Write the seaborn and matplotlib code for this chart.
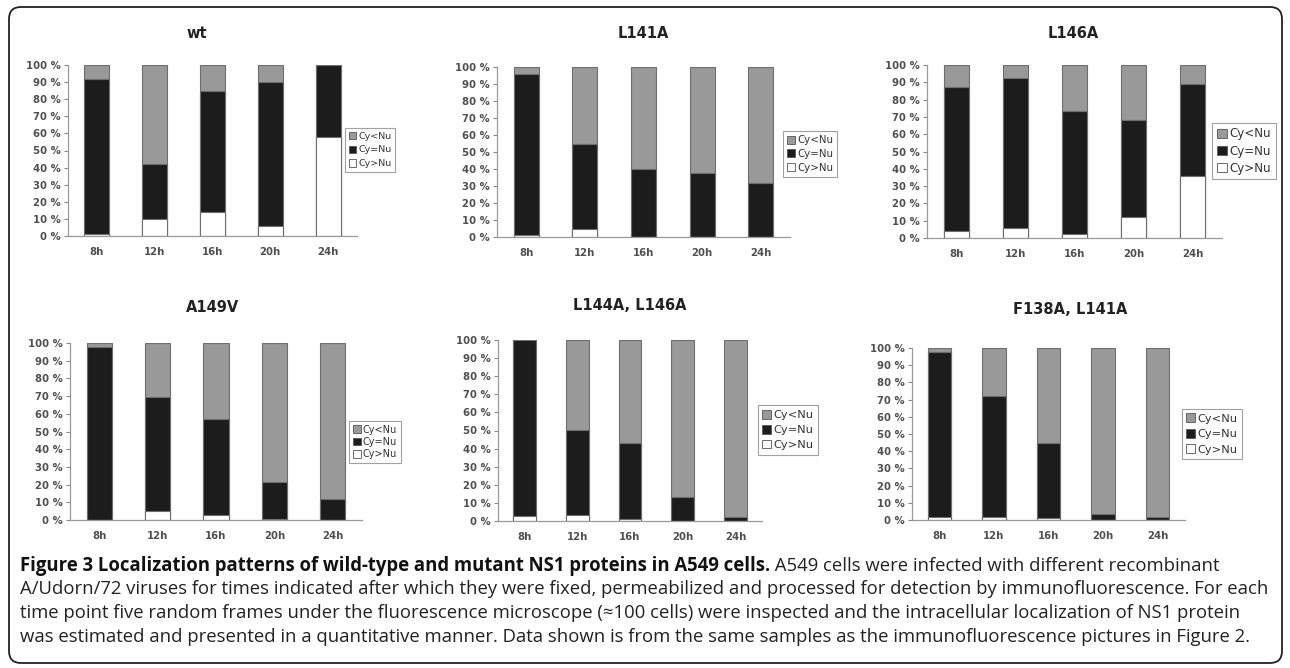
import numpy as np
import pandas as pd
import matplotlib
matplotlib.use("Agg")
import matplotlib.pyplot as plt
import seaborn as sns
from matplotlib.patches import Patch, FancyBboxPatch

# ---- data (percent of cells) ----
times = ["8h", "12h", "16h", "20h", "24h"]
panels = ["wt", "L141A", "L146A", "A149V", "L144A, L146A", "F138A, L141A"]
categories = ["Cy<Nu", "Cy=Nu", "Cy>Nu"]

cy_gt_nu = {
    "wt":           [1, 10, 14, 6, 58],
    "L141A":        [1, 5, 0, 0, 0],
    "L146A":        [4, 5.5, 2.5, 12, 36],
    "A149V":        [0, 5, 3, 0.5, 0],
    "L144A, L146A": [3, 3.5, 1, 0, 0],
    "F138A, L141A": [2, 1.5, 1, 0, 0],
}
cy_eq_nu = {
    "wt":           [91, 32, 71, 84, 42],
    "L141A":        [95, 50, 40, 37.5, 32],
    "L146A":        [83, 87, 71, 56, 53],
    "A149V":        [97.5, 64.5, 54, 21, 12],
    "L144A, L146A": [97, 47, 42, 13, 2],
    "F138A, L141A": [95.5, 70.5, 44, 3.5, 2],
}
cy_lt_nu = {
    "wt":           [8, 58, 15, 10, 0],
    "L141A":        [4, 45, 60, 62.5, 68],
    "L146A":        [13, 7.5, 26.5, 32, 11],
    "A149V":        [2.5, 30.5, 43, 78.5, 88],
    "L144A, L146A": [0, 49.5, 57, 87, 98],
    "F138A, L141A": [2.5, 28, 55, 96.5, 98],
}

ytick_values = list(range(0, 101, 10))
ytick_labels = [f"{v} %" for v in ytick_values]

caption_bold = "Figure 3 Localization patterns of wild-type and mutant NS1 proteins in A549 cells."
caption_lines = [
    " A549 cells were infected with different recombinant",
    "A/Udorn/72 viruses for times indicated after which they were fixed, permeabilized and processed for detection by immunofluorescence. For each",
    "time point five random frames under the fluorescence microscope (\u2248100 cells) were inspected and the intracellular localization of NS1 protein",
    "was estimated and presented in a quantitative manner. Data shown is from the same samples as the immunofluorescence pictures in Figure 2.",
]

# long table
rows = []
for p in panels:
    for i, t in enumerate(times):
        rows.append((p, t, "Cy>Nu", cy_gt_nu[p][i]))
        rows.append((p, t, "Cy=Nu", cy_eq_nu[p][i]))
        rows.append((p, t, "Cy<Nu", cy_lt_nu[p][i]))
df = pd.DataFrame(rows, columns=["panel", "time", "category", "value"])

# ---- layout in pixels (left, top, right, bottom), title centre, legend centre, legend font ----
W, H = 1290, 668
layout = {
    "wt":           dict(box=(68, 65, 357, 236),  title=(197, 33),  leg=(370, 150), lfs=6.8, ls=0.5),
    "L141A":        dict(box=(497, 67, 790, 237), title=(643, 33),  leg=(810, 154), lfs=7.4, ls=0.35),
    "L146A":        dict(box=(927, 65, 1222, 238), title=(1073, 33), leg=(1244, 151), lfs=8.6, ls=0.35),
    "A149V":        dict(box=(70, 343, 362, 520), title=(213, 307), leg=(375, 442), lfs=7.0, ls=0.25),
    "L144A, L146A": dict(box=(498, 340, 762, 521), title=(630, 305), leg=(788, 430), lfs=8.2, ls=0.4),
    "F138A, L141A": dict(box=(912, 348, 1185, 520), title=(1070, 310), leg=(1212, 434), lfs=8.2, ls=0.45),
}

colors = {"Cy<Nu": "#999999", "Cy=Nu": "#1c1c1c", "Cy>Nu": "#ffffff"}
edge = "#6e6e6e"
tick_color = "#505050"

sns.set_style("white")
plt.rcParams["font.family"] = ["DejaVu Sans"]

fig = plt.figure(figsize=(W / 100, H / 100), dpi=100)
fig.patch.set_facecolor("white")

for p in panels:
    lay = layout[p]
    l, t, r, b = lay["box"]
    ax = fig.add_axes([l / W, (H - b) / H, (r - l) / W, (b - t) / H])
    sub = df[df.panel == p].pivot(index="time", columns="category", values="value").loc[times]
    stacks = {
        "Cy<Nu": sub["Cy>Nu"] + sub["Cy=Nu"] + sub["Cy<Nu"],
        "Cy=Nu": sub["Cy>Nu"] + sub["Cy=Nu"],
        "Cy>Nu": sub["Cy>Nu"],
    }
    for cat in categories:
        d = pd.DataFrame({"time": times, "value": stacks[cat].values})
        sns.barplot(data=d, x="time", y="value", order=times, color=colors[cat],
                    saturation=1, edgecolor=edge, linewidth=0.8, width=0.43, ax=ax)
    ax.set_xlim(-0.5, 4.5)
    ax.set_ylim(0, 100)
    ax.set_xlabel("")
    ax.set_ylabel("")
    ax.set_yticks(ytick_values)
    ax.set_yticklabels(ytick_labels, fontsize=7.3, fontweight="bold", color=tick_color)
    ax.set_xticks(range(len(times)))
    ax.set_xticklabels(times, fontsize=7.3, fontweight="bold", color=tick_color)
    ax.set_xticks(np.arange(-0.5, 5, 1), minor=True)
    ax.tick_params(axis="x", which="major", length=0, pad=8)
    ax.tick_params(axis="x", which="minor", length=3, color="#888888", direction="out")
    ax.tick_params(axis="y", length=3, color="#888888", direction="out", pad=2, left=True)
    for s in ["top", "right"]:
        ax.spines[s].set_visible(False)
    for s in ["left", "bottom"]:
        ax.spines[s].set_color("#9a9a9a")
        ax.spines[s].set_linewidth(0.9)
    ax.set_facecolor("none")

    handles = [Patch(facecolor=colors[c], edgecolor="#555555", linewidth=0.6) for c in categories]
    lx, ly = lay["leg"]
    leg = ax.legend(handles, categories, loc="center", bbox_to_anchor=(lx / W, 1 - ly / H),
                    bbox_transform=fig.transFigure, frameon=True, fancybox=False,
                    fontsize=lay["lfs"], handlelength=0.8, handleheight=0.8,
                    handletextpad=0.2, labelspacing=lay["ls"], borderpad=0.4, borderaxespad=0)
    leg.get_frame().set_edgecolor("#8a8a8a")
    leg.get_frame().set_linewidth(0.8)
    for txt in leg.get_texts():
        txt.set_color("#333333")

    tx, ty = lay["title"]
    fig.text(tx / W, 1 - ty / H, p, ha="center", va="center", fontsize=10.5,
             fontweight="bold", color="#222222")

# ---- caption ----
cap_font = ["Open Sans", "DejaVu Sans"]
x0 = 20 / W
line_y = [566, 589, 613, 637]
fig.canvas.draw()
renderer = fig.canvas.get_renderer()
probe = fig.text(x0, 0.5, caption_lines[1], fontsize=10, family=cap_font)
w = probe.get_window_extent(renderer).width
probe.remove()
cap_fs = 10 * (1250 / w)

tb = fig.text(x0, 1 - line_y[0] / H, caption_bold, fontsize=cap_fs, fontweight="bold",
              family=cap_font, va="center", color="#111111")
bb = tb.get_window_extent(renderer)
fig.text(bb.x1 / W, 1 - line_y[0] / H, caption_lines[0], fontsize=cap_fs,
         family=cap_font, va="center", color="#222222")
for yy, line in zip(line_y[1:], caption_lines[1:]):
    fig.text(x0, 1 - yy / H, line, fontsize=cap_fs, family=cap_font, va="center",
             color="#222222")

# rounded frame around the whole figure
frame = FancyBboxPatch((9, 5), 1273, 656, boxstyle="round,pad=0,rounding_size=12",
                       facecolor="none", edgecolor="#222222", linewidth=1.3, transform=None)
fig.add_artist(frame)

fig.savefig("out.png", dpi=100)
